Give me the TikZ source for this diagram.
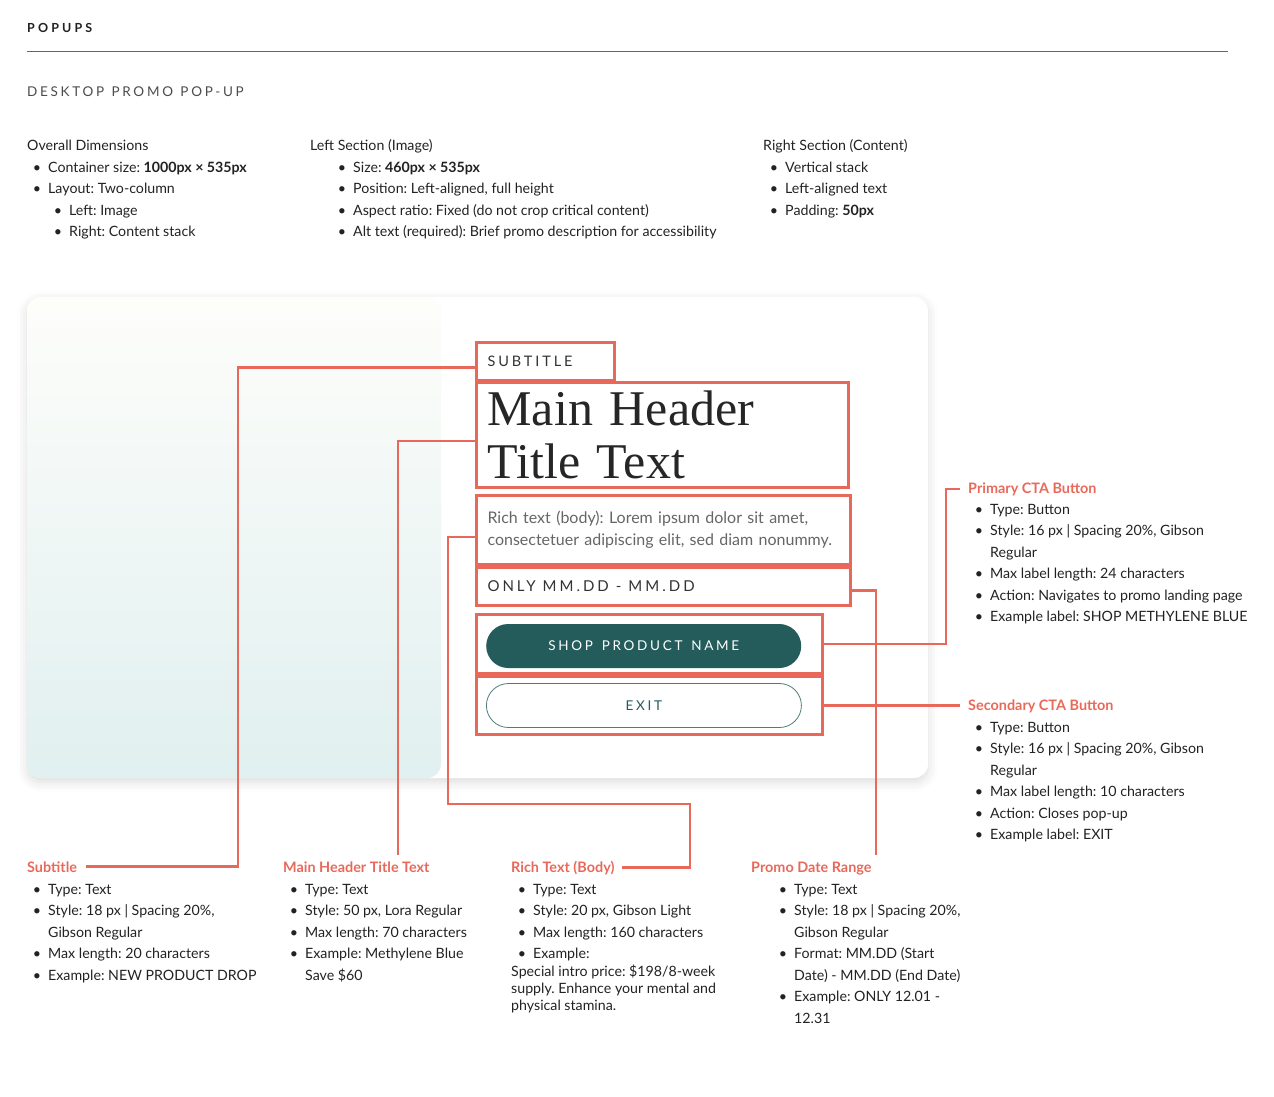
\documentclass[tikz,border=0pt]{standalone}
\usepackage{fontspec}
\setmainfont{Lato}
\newfontfamily\hdrserif{Liberation Serif}
\newfontfamily\tracked[LetterSpace=20, WordSpace=1.8]{Lato}
\newfontfamily\trackedwide[LetterSpace=20, WordSpace=1.2]{Lato}
\usetikzlibrary{shadows.blur}
\definecolor{coral}{HTML}{E8695A}
\definecolor{btnteal}{HTML}{245B5B}
\definecolor{ink}{HTML}{222222}
\newcommand{\bul}{\llap{\textbullet\hspace{7pt}}}
\newcommand{\notefont}{\fontsize{14.2}{21.5}\selectfont}
\newcommand{\gap}{\hspace{7pt}}
\frenchspacing

\begin{document}
\begin{tikzpicture}[x=1pt, y=-1pt,
        head/.style ={anchor=base west, inner sep=0pt, font=\fontsize{14.4}{21.5}\selectfont\bfseries, text=coral},
        plain/.style={anchor=base west, inner sep=0pt, font=\notefont, text=ink},
        notes/.style={anchor=north west, inner sep=0pt, align=left, font=\notefont, text=ink},
        redbox/.style={draw=coral, line width=3pt, anchor=north west, inner xsep=11pt, inner ysep=0pt, align=left},
        pill/.style={anchor=west, minimum width=315pt, minimum height=44pt, rounded corners=22pt,
            font=\tracked\fontsize{13.5}{13.5}\selectfont},
        lead/.style={draw=coral, line width=2.5pt}]
    \useasboundingbox (0,0) rectangle (1274,1096);

    %--- Title ---
    \node[anchor=west, inner sep=0pt, text=ink,
        font=\fontsize{12.5}{12.5}\selectfont\bfseries\addfontfeature{LetterSpace=25}] (ttl) at (27,28) {POPUPS};
    \draw[black!60, line width=1pt] (27,51) -- (1228,51);
    \node[anchor=west, inner sep=0pt, text=black!70,
        font=\trackedwide\fontsize{13.5}{13.5}\selectfont] (sec) at (27,92) {DESKTOP PROMO POP-UP};

    %--- Spec columns ---
    \node[plain] (ovh) at (27,150) {Overall Dimensions};
    \node[notes] (ovl) at (48,157) {\strut\bul Container size: \textbf{1000px × 535px}\\
        \bul Layout: Two-column\\
        \hspace*{21pt}\bul Left: Image\\
        \hspace*{21pt}\bul Right: Content stack};
    \node[plain] (lsh) at (310,150) {Left Section (Image)};
    \node[notes] (lsl) at (353,157) {\strut\bul Size: \textbf{460px × 535px}\\
        \bul Position: Left-aligned, full height\\
        \bul Aspect ratio: Fixed (do not crop critical content)\\
        \bul Alt text (required): Brief promo description for accessibility};
    \node[plain] (rsh) at (763,150) {Right Section (Content)};
    \node[notes] (rsl) at (785,157) {\strut\bul Vertical stack\\
        \bul Left-aligned text\\
        \bul Padding: \textbf{50px}};

    %--- Pop-up card ---
    \fill[white, rounded corners=14pt, blur shadow={shadow xshift=0pt, shadow yshift=-4pt,
        shadow blur radius=10pt, shadow opacity=14}] (27,297) rectangle (928,778);
    \shade[top color=white!95!olive!25, bottom color=teal!12, rounded corners=14pt] (27,297) rectangle (441,778);

    %--- Marked fields ---
    \node[redbox, text width=116pt, minimum height=38pt, text=black!80,
        font=\tracked\fontsize{14.5}{14.5}\selectfont] (sub) at (475,341) {SUBTITLE};
    \node[redbox, text width=350pt, minimum height=105pt, text=black!85,
        font=\hdrserif\fontsize{50}{53}\selectfont] (hdr) at (475,381) {Main Header\\Title Text};
    \node[redbox, text width=352pt, minimum height=69pt, text=black!60,
        font=\fontsize{16}{22}\selectfont] (body) at (475,494) {Rich text (body): Lorem ipsum dolor sit amet,\\consectetuer adipiscing elit, sed diam nonummy.};
    \node[redbox, text width=352pt, minimum height=38pt, text=black!80,
        font=\tracked\fontsize{15}{15}\selectfont] (date) at (475,566) {ONLY\gap MM.DD\gap -\gap MM.DD};
    \node[redbox, minimum width=346pt, minimum height=59pt] (cta1) at (475,613) {};
    \node[redbox, minimum width=346pt, minimum height=58pt] (cta2) at (475,675) {};

    \node[pill, fill=btnteal, text=white] (shop) at ([xshift=11pt, yshift=-2pt]cta1.west) {SHOP PRODUCT NAME};
    \node[pill, draw=btnteal!80, line width=0.8pt, text=btnteal] (exit) at ([xshift=11pt]cta2.west) {EXIT};

    %--- Right notes ---
    \node[head] (lcta1) at (968,493) {Primary CTA Button};
    \node[notes] (ncta1) at (990,499) {\strut\bul Type: Button\\
        \bul Style: 16 px | Spacing 20\%, Gibson\\
        Regular\\
        \bul Max label length: 24 characters\\
        \bul Action: Navigates to promo landing page\\
        \bul Example label: SHOP METHYLENE BLUE};
    \node[head] (lcta2) at (968,710) {Secondary CTA Button};
    \node[notes] (ncta2) at (990,717) {\strut\bul Type: Button\\
        \bul Style: 16 px | Spacing 20\%, Gibson\\
        Regular\\
        \bul Max label length: 10 characters\\
        \bul Action: Closes pop-up\\
        \bul Example label: EXIT};

    %--- Bottom notes ---
    \node[head] (lsub) at (27,872) {Subtitle};
    \node[notes] (nsub) at (48,879) {\strut\bul Type: Text\\
        \bul Style: 18 px | Spacing 20\%,\\
        Gibson Regular\\
        \bul Max length: 20 characters\\
        \bul Example: NEW PRODUCT DROP};
    \node[head] (lhdr) at (283,872) {Main Header Title Text};
    \node[notes] (nhdr) at (305,879) {\strut\bul Type: Text\\
        \bul Style: 50 px, Lora Regular\\
        \bul Max length: 70 characters\\
        \bul Example: Methylene Blue\\
        Save \$60};
    \node[head] (lrich) at (511,872) {Rich Text (Body)};
    \node[notes] (nrich) at (533,879) {\strut\bul Type: Text\\
        \bul Style: 20 px, Gibson Light\\
        \bul Max length: 160 characters\\
        \bul Example:};
    \node[notes, font=\fontsize{14.2}{17}\selectfont] (xrich) at (511,964) {\strut Special intro price: \$198/8-week\\
        supply. Enhance your mental and\\
        physical stamina.};
    \node[head] (ldate) at (751,872) {Promo Date Range};
    \node[notes] (ndate) at (794,879) {\strut\bul Type: Text\\
        \bul Style: 18 px | Spacing 20\%,\\
        Gibson Regular\\
        \bul Format: MM.DD (Start\\
        Date) - MM.DD (End Date)\\
        \bul Example: ONLY 12.01 -\\
        12.31};

    %--- Leaders ---
    \draw[lead] ([yshift=-6pt]sub.west) -- ++(-237,0) |- ([xshift=9pt]lsub.east);
    \draw[lead] ([yshift=-6pt]hdr.west) -| ([xshift=115pt, yshift=6pt]lhdr.north west);
    \draw[lead] ([yshift=-7pt]body.west) -- ++(-27,0) -- ++(0,267) -- ++(242,0) |- ([xshift=7pt]lrich.east);
    \draw[lead] ([yshift=-4pt]date.east) -| ([xshift=125pt, yshift=6pt]ldate.north west);
    \draw[lead] (cta1.east) -- ++(122,0) |- ([xshift=-8pt]lcta1.west);
    \draw[lead, shorten >=8pt] (cta2.east) -- (cta2.east -| lcta2.west);

\end{tikzpicture}
\end{document}
